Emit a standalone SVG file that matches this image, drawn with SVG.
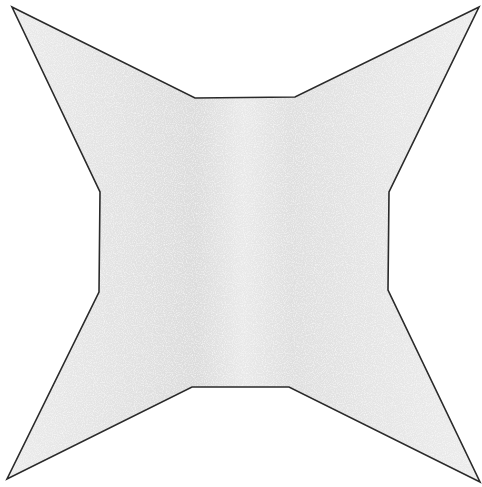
<svg xmlns="http://www.w3.org/2000/svg" width="482" height="487" viewBox="0 0 482 487">
<defs>
<linearGradient id="g" x1="0" y1="0" x2="1" y2="0">
<stop offset="0" stop-color="#ebebeb"/>
<stop offset="0.25" stop-color="#e2e2e2"/>
<stop offset="0.4" stop-color="#dcdcdc"/>
<stop offset="0.5" stop-color="#e9e9e9"/>
<stop offset="0.6" stop-color="#dfdfdf"/>
<stop offset="0.8" stop-color="#e6e6e6"/>
<stop offset="1" stop-color="#ececec"/>
</linearGradient>
<filter id="n" x="0" y="0" width="100%" height="100%">
<feTurbulence type="fractalNoise" baseFrequency="0.9" numOctaves="2" seed="3" result="t"/>
<feColorMatrix in="t" type="matrix" values="0 0 0 0 1  0 0 0 0 1  0 0 0 0 1  0 0 0 1.4 -0.6" result="m"/>
<feComposite in="m" in2="SourceGraphic" operator="in" result="c"/>
<feMerge><feMergeNode in="SourceGraphic"/><feMergeNode in="c"/></feMerge>
</filter>
</defs>
<rect width="482" height="487" fill="#ffffff"/>
<g id="star">
<polygon points="12,7 195,98 295,97 479,7 389,192 388,290 480,482 289,387 192,387 7,479 99,292 100,192" fill="url(#g)" filter="url(#n)"/>
<polygon points="12,7 195,98 295,97 479,7 389,192 388,290 480,482 289,387 192,387 7,479 99,292 100,192" fill="none" stroke="#2a2a2a" stroke-width="1.6" stroke-linejoin="miter"/>
</g>
</svg>
